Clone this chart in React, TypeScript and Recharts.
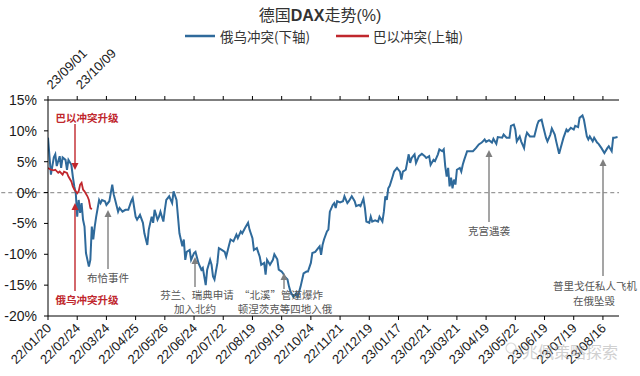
import React from "react";
import { LineChart, Line, XAxis, YAxis, ReferenceLine } from "recharts";

// 俄乌冲突 (lower axis): trading-day index since 22/01/20 and DAX change (%)
const ruDays = [
  0, 2, 4, 5, 6, 8, 9, 10, 12, 13, 14, 16, 17, 18, 19, 20, 21, 22, 23, 24,
  25, 26, 28, 29, 30, 31, 32, 33, 35, 36, 37, 39, 40, 42, 44, 45, 46, 48, 49, 51,
  53, 55, 57, 58, 60, 61, 63, 65, 66, 68, 69, 71, 72, 73, 75, 76, 77, 79, 80, 81,
  83, 85, 86, 88, 89, 90, 92, 93, 94, 95, 97, 98, 100, 101, 103, 105, 106, 108, 109, 111,
  112, 113, 114, 116, 117, 119, 121, 122, 124, 125, 127, 129, 130, 132, 133, 135, 137, 138, 140, 141,
  143, 145, 146, 148, 149, 150, 152, 154, 155, 157, 158, 160, 161, 162, 164, 165, 166, 168, 170, 171,
  173, 175, 177, 178, 180, 181, 183, 185, 186, 187, 188, 189, 191, 192, 193, 195, 196, 197, 198, 200,
  202, 203, 205, 206, 208, 210, 211, 213, 214, 216, 217, 218, 220, 221, 222, 224, 226, 227, 229, 230,
  231, 232, 233, 234, 236, 237, 239, 241, 242, 243, 245, 247, 248, 249, 251, 252, 254, 256, 258, 259,
  261, 262, 264, 265, 267, 268, 270, 271, 272, 273, 274, 275, 276, 277, 278, 279, 280, 282, 283, 284,
  285, 287, 289, 291, 293, 295, 297, 299, 300, 302, 304, 305, 307, 308, 311, 312, 314, 316, 317, 319,
  320, 321, 323, 324, 326, 327, 328, 330, 331, 333, 335, 336, 338, 339, 341, 342, 344, 345, 347, 348,
  350, 351, 353, 355, 356, 358, 360, 361, 363, 364, 366, 367, 369, 370, 371, 373, 374, 376, 377, 379,
  381, 383, 384, 386, 387, 388, 390,
];
const ruValues = [
  8.9, 2.9, 5.7, 6.2, 4.3, 5.9, 4.0, 5.7, 5.3, 3.7, 5.3, 4.5, 2.6, 1.0, 0.0, -3.9, -1.2, -3.3, -1.7, -4.4,
  -5.5, -9.8, -12.0, -10.9, -5.5, -7.6, -5.5, -3.9, -1.2, -1.7, -1.2, -1.4, -2.0, -1.4, 1.3, -0.3, -1.2, -3.1, -2.5, -3.1,
  -2.8, -2.8, -1.4, -0.9, -3.9, -4.4, -3.6, -4.9, -6.6, -8.5, -6.0, -3.9, -4.9, -2.8, -4.4, -3.9, -3.1, -4.7, -2.8, -1.2,
  -0.6, -1.7, 0.2, -1.2, -3.9, -6.6, -8.7, -7.6, -10.9, -9.6, -9.3, -10.9, -9.8, -9.6, -11.4, -12.5, -12.2, -15.0, -12.5, -10.9,
  -11.7, -13.6, -14.1, -11.4, -9.0, -9.3, -9.6, -10.4, -8.5, -7.6, -7.9, -6.8, -7.4, -6.3, -6.6, -5.7, -4.9, -6.0, -7.4, -9.3,
  -9.0, -10.4, -11.7, -11.4, -13.3, -10.9, -11.7, -10.9, -10.0, -10.8, -12.5, -12.8, -13.1, -13.6, -14.1, -15.2, -16.0, -16.9, -16.3, -16.9,
  -15.2, -13.1, -12.8, -12.8, -11.4, -9.8, -9.6, -9.0, -8.7, -10.1, -8.5, -7.6, -6.3, -6.0, -3.1, -2.0, -1.7, -2.5, -1.4, -1.6,
  -1.4, -0.6, -1.7, -1.4, -0.6, -1.4, -2.2, -2.0, -2.2, -1.0, -2.5, -4.7, -4.9, -3.9, -4.7, -4.5, -4.7, -3.9, -4.7, -3.1,
  -0.6, -1.2, 0.7, 1.1, 2.6, 3.4, 4.0, 3.4, 2.1, 3.4, 3.7, 6.2, 4.8, 5.6, 6.2, 4.8, 5.9, 6.3, 5.9, 5.6,
  5.9, 4.5, 5.3, 5.1, 6.2, 7.0, 6.7, 7.0, 4.3, 2.6, 4.0, 1.0, 2.4, 0.7, 2.1, 1.3, 3.7, 4.0, 3.4, 4.5,
  5.3, 6.7, 6.7, 6.7, 7.2, 7.8, 8.1, 8.6, 8.2, 8.5, 8.1, 8.7, 7.9, 9.0, 8.9, 9.4, 8.9, 8.9, 10.8, 11.0,
  10.2, 8.3, 9.1, 8.3, 7.2, 8.9, 9.7, 9.1, 9.1, 9.1, 11.0, 11.6, 11.8, 10.8, 8.9, 8.3, 9.4, 10.4, 9.4, 8.3,
  6.3, 7.2, 8.9, 10.2, 9.9, 10.5, 10.2, 10.8, 10.6, 12.1, 12.5, 11.8, 9.1, 8.6, 9.1, 8.3, 8.9, 8.1, 7.9, 7.2,
  6.4, 7.2, 7.5, 6.7, 8.9, 8.9, 9.0,
];

// 巴以冲突 (upper axis): trading-day index since 23/09/01 and DAX change (%)
const ilDays = [0, 2, 4, 5, 7, 8, 10, 11, 13, 14, 16, 17, 18, 20, 21, 22, 23, 24, 25, 27, 28, 29, 30];
const ilValues = [4.0, 3.7, 3.6, 3.7, 3.2, 3.4, 2.9, 3.4, 3.2, 2.6, 1.8, 1.0, 0.5, -0.1, 0.2, 1.3, 1.6, 0.5, 0.2, -0.6, -1.2, -2.5, -2.7];

const bottomTickLabels = [
  "22/01/20", "22/02/24", "22/03/24", "22/04/25", "22/05/26", "22/06/24", "22/07/22",
  "22/08/19", "22/09/19", "22/10/24", "22/11/21", "22/12/19", "23/01/17", "23/02/21",
  "23/03/21", "23/04/19", "23/05/22", "23/06/19", "23/07/19", "23/08/16",
];
const topTickLabels = ["23/09/01", "23/10/09"];
const yTicks = [-20, -15, -10, -5, 0, 5, 10, 15];
const tickStep = 20;
const dayDomain = [0, 391];

const ruData = ruDays.map((d, i) => ({ day: d, value: ruValues[i] }));
const ilData = ilDays.map((d, i) => ({ day: d, value: ilValues[i] }));
const xTicks = bottomTickLabels.map((_, i) => i * tickStep);

const BLUE = "#2f6a9b";
const RED = "#c0272d";
const GRAY = "#7f7f7f";
const LATIN = "'Liberation Sans', Arial, 'Noto Sans CJK SC', sans-serif";
const CJK = "'Noto Sans CJK SC', 'Liberation Sans', sans-serif";

const BottomTick = (props: any) => {
  const { x, y, payload } = props;
  const label = bottomTickLabels[Math.round(payload.value / tickStep)] ?? "";
  const ax = x + 4;
  const ay = y + 7;
  return (
    <text x={ax} y={ay} transform={`rotate(-45, ${ax}, ${ay})`} textAnchor="end" fontSize={13} fill="#1a1a1a" fontFamily={LATIN}>
      {label}
    </text>
  );
};

const TopTick = (props: any) => {
  const { x, y, payload } = props;
  const label = topTickLabels[Math.round(payload.value / tickStep)] ?? "";
  const ax = x + 4;
  const ay = y - 4;
  return (
    <text x={ax} y={ay} transform={`rotate(-45, ${ax}, ${ay})`} textAnchor="start" fontSize={13} fill="#1a1a1a" fontFamily={LATIN}>
      {label}
    </text>
  );
};

const Arrow = ({ x, from, to, color }: { x: number; from: number; to: number; color: string }) => {
  const dir = to > from ? 1 : -1;
  const hl = 7;
  const hw = 3.5;
  return (
    <g>
      <line x1={x} y1={from} x2={x} y2={to - dir * hl} stroke={color} strokeWidth={1.4} />
      <polygon points={`${x},${to} ${x - hw},${to - dir * hl} ${x + hw},${to - dir * hl}`} fill={color} />
    </g>
  );
};

const Note = ({ x, y, text, color = "#555", bold = false }: any) => (
  <text x={x} y={y} textAnchor="middle" dominantBaseline="central" fontSize={10.5} fill={color} fontWeight={bold ? 700 : 400} fontFamily={CJK}>
    {text}
  </text>
);

export default function App() {
  return (
    <div style={{ position: "absolute", left: 0, top: 0, width: 640, height: 376, background: "#fff" }}>
      <div style={{ position: "absolute", left: 0, top: 4, width: 640, textAlign: "center", fontSize: 16, color: "#333", fontFamily: CJK, lineHeight: "20px" }}>
        德国<span style={{ fontFamily: LATIN, fontWeight: 700 }}>DAX</span>走势<span style={{ fontFamily: LATIN }}>(%)</span>
      </div>
      <LineChart width={640} height={376} margin={{ top: 70, right: 21, bottom: 5, left: 0 }}>
        <XAxis
          xAxisId="bottom"
          dataKey="day"
          type="number"
          domain={dayDomain}
          ticks={xTicks}
          interval={0}
          tick={<BottomTick />}
          tickSize={4}
          height={55}
          axisLine={{ stroke: "#000" }}
          tickLine={{ stroke: "#000" }}
          allowDataOverflow
        />
        <XAxis
          xAxisId="top"
          orientation="top"
          dataKey="day"
          type="number"
          domain={dayDomain}
          ticks={xTicks}
          interval={0}
          tick={<TopTick />}
          tickSize={4}
          height={30}
          axisLine={{ stroke: "#000" }}
          tickLine={{ stroke: "#000" }}
          allowDataOverflow
        />
        <YAxis
          type="number"
          domain={[-20, 15]}
          ticks={yTicks}
          interval={0}
          width={48}
          tickSize={4}
          tickMargin={7}
          tickFormatter={(v: number) => `${v}%`}
          tick={{ fontSize: 14, fill: "#1a1a1a", fontFamily: LATIN }}
          axisLine={{ stroke: "#000" }}
          tickLine={{ stroke: "#000" }}
        />
        <ReferenceLine
          xAxisId="bottom"
          segment={[{ x: -32, y: 0 }, { x: 391, y: 0 }]}
          stroke="#999"
          strokeDasharray="4 3"
          strokeWidth={1.2}
          ifOverflow="visible"
        />
        <Line
          xAxisId="bottom"
          data={ruData}
          dataKey="value"
          stroke={BLUE}
          strokeWidth={2}
          dot={false}
          type="linear"
          isAnimationActive={false}
        />
        <Line
          xAxisId="top"
          data={ilData}
          dataKey="value"
          stroke={RED}
          strokeWidth={1.8}
          dot={false}
          type="linear"
          isAnimationActive={false}
        />
      </LineChart>
      <svg width={640} height={376} style={{ position: "absolute", left: 0, top: 0, pointerEvents: "none" }}>
        {/* legend */}
        <line x1={185} y1={36} x2={215} y2={36} stroke={BLUE} strokeWidth={2.5} />
        <text x={220} y={36} dominantBaseline="central" fontSize={13.5} fill="#333" fontFamily={CJK}>俄乌冲突(下轴)</text>
        <line x1={336} y1={36} x2={369} y2={36} stroke={RED} strokeWidth={2.5} />
        <text x={373} y={36} dominantBaseline="central" fontSize={13.5} fill="#333" fontFamily={CJK}>巴以冲突(上轴)</text>

        {/* annotations */}
        <Note x={87} y={117} text="巴以冲突升级" color={RED} bold />
        <Arrow x={75} from={124} to={170} color={RED} />
        <Note x={87} y={299} text="俄乌冲突升级" color={RED} bold />
        <Arrow x={75} from={291} to={203} color={RED} />

        <Arrow x={108} from={269} to={210} color={GRAY} />
        <Note x={108} y={277} text="布恰事件" />

        <Arrow x={195} from={287} to={257} color={GRAY} />
        <Note x={197} y={294} text="芬兰、瑞典申请" />
        <Note x={195} y={308} text="加入北约" />

        <Arrow x={284} from={289} to={273} color={GRAY} />
        <Note x={281} y={294} text="“北溪”管道爆炸" />
        <Note x={285} y={308} text="顿涅茨克等四地入俄" />

        <Arrow x={489} from={222} to={150} color={GRAY} />
        <Note x={489} y={230} text="克宫遇袭" />

        <Arrow x={603} from={276} to={159} color={GRAY} />
        <Note x={595} y={285} text="普里戈任私人飞机" />
        <Note x={594} y={300} text="在俄坠毁" />

        {/* watermark */}
        <g opacity={0.55}>
          <circle cx={511} cy={348} r={5} fill="none" stroke="#bbb" strokeWidth={1.2} />
          <circle cx={517} cy={353} r={4} fill="none" stroke="#bbb" strokeWidth={1.2} />
          <text x={522} y={351} dominantBaseline="central" fontSize={16} fill="#aaa" fontFamily={CJK}>兆佩策略探索</text>
        </g>
      </svg>
    </div>
  );
}
